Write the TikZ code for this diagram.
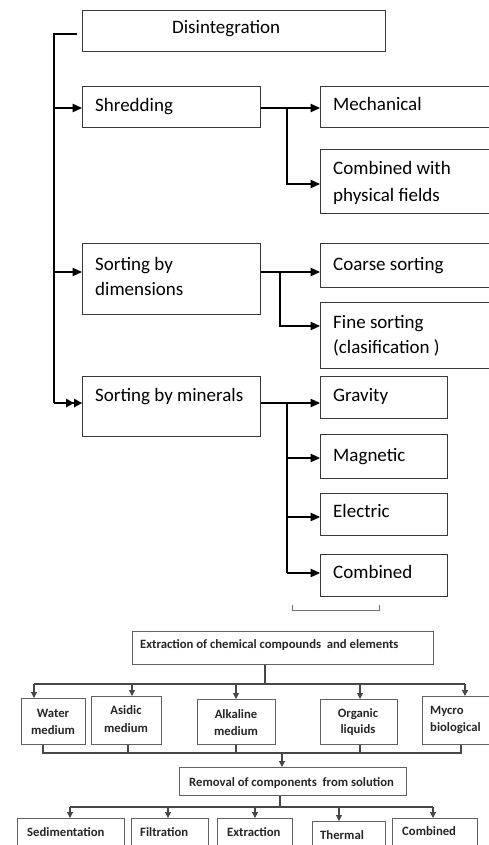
\documentclass[tikz,border=0pt]{standalone}
\usepackage{fontspec}
\setmainfont{Carlito}
\usetikzlibrary{arrows.meta}
\begin{document}
\begin{tikzpicture}[x=1pt,y=-1pt,
  box/.style={draw=black!78, line width=1.2pt, anchor=north west, inner sep=0pt},
  sbox/.style={draw=black!62, line width=1.1pt, anchor=north west, inner sep=0pt},
  txt/.style={anchor=base west, inner sep=0pt, font=\fontsize{19}{24}\selectfont},
  btxt/.style={anchor=base, inner sep=0pt, text=black!85, font=\bfseries\fontsize{12.7}{14}\selectfont},
  bltxt/.style={btxt, anchor=base west},
  con/.style={draw=black, line width=1.2pt},
  arr/.style={con, -{Triangle[length=9.5pt,width=8.5pt]}},
  darr/.style={con, -{Triangle[length=8pt,width=8.5pt]Triangle[length=8pt,width=8.5pt]}},
  scon/.style={draw=black!72, line width=1.1pt},
  sarr/.style={scon, -{Triangle[length=6pt,width=6pt]}}]
\useasboundingbox (0,0) rectangle (489,845);
\fill[white] (0,0) rectangle (489,845);

% ---------------- upper part: boxes
\node[box, minimum width=303, minimum height=41] (disint) at (82,10) {};
\node[box, minimum width=178, minimum height=41] (shred) at (82,86) {};
\node[box, minimum width=172, minimum height=41] (mech) at (320,86) {};
\node[box, minimum width=172, minimum height=64] (combf) at (320,149) {};
\node[box, minimum width=178, minimum height=71] (sdim) at (82,243) {};
\node[box, minimum width=172, minimum height=44] (coarse) at (320,243) {};
\node[box, minimum width=172, minimum height=66] (fine) at (320,302) {};
\node[box, minimum width=178, minimum height=60] (smin) at (82,376) {};
\node[box, minimum width=127, minimum height=42] (grav) at (320,376) {};
\node[box, minimum width=127, minimum height=44] (magn) at (320,434) {};
\node[box, minimum width=127, minimum height=42] (elec) at (320,493) {};
\node[box, minimum width=127, minimum height=42] (comb) at (320,554) {};

% texts
\node[txt] (tdis) at (172,34) {Disintegration};
\node[txt] (tshr) at (95,112) {Shredding};
\node[txt] (tmech) at (333,111) {Mechanical};
\node[txt] (tcf1) at (333,175) {Combined with};
\node[txt] (tcf2) at (333,201) {physical fields};
\node[txt] (tsd1) at (95,270) {Sorting by};
\node[txt] (tsd2) at (95,295) {dimensions};
\node[txt] (tcoa) at (333,270) {Coarse sorting};
\node[txt] (tfi1) at (333,328) {Fine sorting};
\node[txt] (tfi2) at (333,353) {(clasification )};
\node[txt] (tsmin) at (95,401) {Sorting by minerals};
\node[txt] (tgrav) at (333,401) {Gravity};
\node[txt] (tmagn) at (333,461) {Magnetic};
\node[txt] (telec) at (333,517) {Electric};
\node[txt] (tcomb) at (333,578) {Combined};

% trunk
\coordinate (t0) at (54,34);
\coordinate (t1) at (54,108);
\coordinate (t2) at (54,272);
\coordinate (t3) at (54,403);
\draw[con] ([xshift=-5pt]disint.west |- t0) -- (t0) -- (t3);
\draw[arr] (t1) -- (shred.west |- t1);
\draw[arr] (t2) -- (sdim.west |- t2);
\draw[darr] (t3) -- (smin.west |- t3);

% shredding branches
\coordinate (j1) at (287,108);
\coordinate (j1b) at (287,184);
\draw[con] (shred.east |- j1) -- (j1);
\draw[arr] (j1) -- (mech.west |- j1);
\draw[arr] (j1) -- (j1b) -- (combf.west |- j1b);

% sorting by dimensions branches
\coordinate (j2) at (280,272);
\coordinate (j2b) at (280,326);
\draw[con] (sdim.east |- j2) -- (j2);
\draw[arr] (j2) -- (coarse.west |- j2);
\draw[arr] (j2) -- (j2b) -- (fine.west |- j2b);

% sorting by minerals branches
\coordinate (j3) at (287,403);
\coordinate (j3a) at (287,458);
\coordinate (j3b) at (287,517);
\coordinate (j3c) at (287,573);
\draw[con] (smin.east |- j3) -- (j3);
\draw[arr] (j3) -- (grav.west |- j3);
\draw[con] (j3) -- (j3c);
\draw[arr] (j3a) -- (magn.west |- j3a);
\draw[arr] (j3b) -- (elec.west |- j3b);
\draw[arr] (j3c) -- (comb.west |- j3c);

% small bracket
\draw[draw=black!55, line width=1pt] (292,605) -- (292,610) -- (379,610) -- (379,605);

% ---------------- lower part
\node[sbox, minimum width=301, minimum height=33] (ext) at (132,631) {};
\node[bltxt] (text) at (140,648) {Extraction of chemical compounds\ \ and elements};

\node[sbox, minimum width=64, minimum height=46] (water) at (21,698) {};
\node[sbox, minimum width=70, minimum height=48] (asid) at (91,696) {};
\node[sbox, minimum width=78, minimum height=45] (alka) at (197,699) {};
\node[sbox, minimum width=77, minimum height=45] (orga) at (320,699) {};
\node[sbox, minimum width=70, minimum height=48] (myc) at (422,696) {};

\node[btxt] (tw1) at (53,717) {Water};
\node[btxt] (tw2) at (53,734) {medium};
\node[btxt] (ta1) at (126,714) {Asidic};
\node[btxt] (ta2) at (126,732) {medium};
\node[btxt] (tk1) at (236,718) {Alkaline};
\node[btxt] (tk2) at (236,735) {medium};
\node[btxt] (to1) at (358,717) {Organic};
\node[btxt] (to2) at (358,733) {liquids};
\node[bltxt] (tm1) at (430,714) {Mycro};
\node[bltxt] (tm2) at (430,731) {biological};

\coordinate (h0) at (265,684);
\coordinate (ha) at (34,684);
\coordinate (hb) at (132,684);
\coordinate (hc) at (236,684);
\coordinate (hd) at (360,684);
\coordinate (he) at (465,684);
\draw[scon] (h0 |- ext.south) -- (h0);
\draw[scon] (ha) -- (he);
\draw[sarr] (ha) -- (ha |- water.north);
\draw[sarr] (hb) -- (hb |- asid.north);
\draw[sarr] (hc) -- (hc |- alka.north);
\draw[sarr] (hd) -- (hd |- orga.north);
\draw[sarr] (he) -- (he |- myc.north);

% collector
\coordinate (ca) at (43,753);
\coordinate (cb) at (128,753);
\coordinate (cc) at (236,753);
\coordinate (cd) at (360,753);
\coordinate (ce) at (461,753);
\coordinate (cm) at (282,753);
\draw[scon] (ca |- water.south) -- (ca) -- (ce) -- (ce |- myc.south);
\draw[scon] (cb |- asid.south) -- (cb);
\draw[scon] (cc |- alka.south) -- (cc);
\draw[scon] (cd |- orga.south) -- (cd);

\node[sbox, minimum width=227, minimum height=28] (remo) at (179,767) {};
\node[bltxt] (trem) at (189,786) {Removal of components\ \ from solution};
\draw[sarr] (cm) -- (cm |- remo.north);

\node[sbox, minimum width=107, minimum height=45] (sedi) at (17,818) {};
\node[sbox, minimum width=77, minimum height=45] (filt) at (131,818) {};
\node[sbox, minimum width=75, minimum height=45] (extr) at (217,818) {};
\node[sbox, minimum width=73, minimum height=45] (ther) at (312,821) {};
\node[sbox, minimum width=85, minimum height=45] (cmbd) at (392,818) {};

\node[bltxt] (tsed) at (27,836) {Sedimentation};
\node[bltxt] (tfil) at (140,836) {Filtration};
\node[bltxt] (tex2) at (227,836) {Extraction};
\node[bltxt] (tthe) at (320,839) {Thermal};
\node[bltxt] (tcmb) at (402,835) {Combined};

\coordinate (r0) at (280,807);
\coordinate (ra) at (70,807);
\coordinate (rb) at (168,807);
\coordinate (rc) at (255,807);
\coordinate (rd) at (339,807);
\coordinate (re) at (433,807);
\draw[scon] (r0 |- remo.south) -- (r0);
\draw[scon] (ra) -- (re);
\draw[sarr] (ra) -- (ra |- sedi.north);
\draw[sarr] (rb) -- (rb |- filt.north);
\draw[sarr] (rc) -- (rc |- extr.north);
\draw[sarr] (rd) -- (rd |- ther.north);
\draw[sarr] (re) -- (re |- cmbd.north);
\end{tikzpicture}
\end{document}
